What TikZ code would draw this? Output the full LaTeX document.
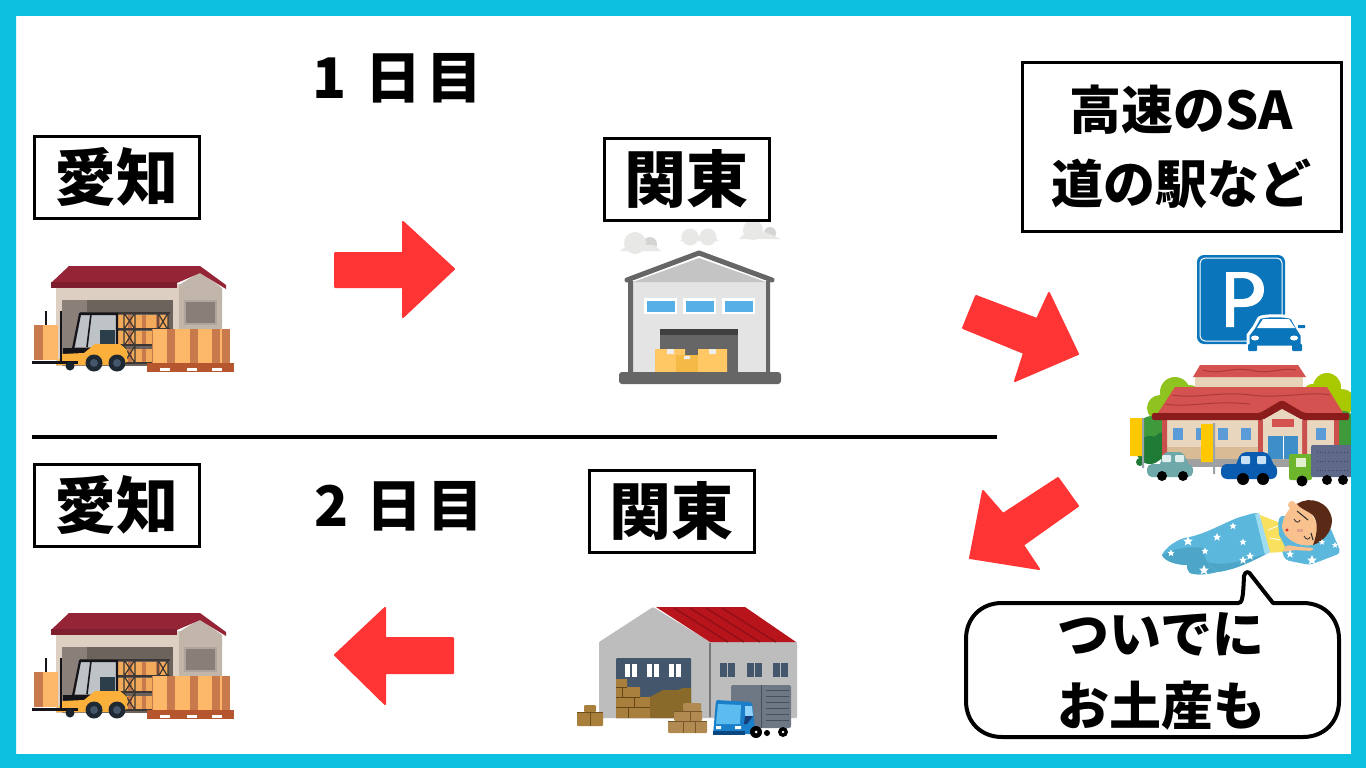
\documentclass[tikz,border=0pt]{standalone}
\usepackage{fontspec}
\newfontfamily\jp{Noto Sans CJK JP}
\definecolor{cyanframe}{HTML}{0CC0DF}
\definecolor{redarrow}{HTML}{FF3535}
\definecolor{tape}{HTML}{C87A4C}
\definecolor{cardboard}{HTML}{FCB868}
\definecolor{signblue}{HTML}{0A75BB}
\definecolor{blanket}{HTML}{5BB8DC}
\definecolor{blanketd}{HTML}{4DA5C8}
\definecolor{skin}{HTML}{F8C18E}
\definecolor{ink}{HTML}{14141A}
\definecolor{shelf}{HTML}{3C3734}
\tikzset{
  x=1pt,y=-1pt,
  labelbox/.style={draw=black,line width=3pt,fill=white,minimum width=165pt,minimum height=82pt,inner sep=0pt,font=\jp\bfseries\fontsize{62}{62}\selectfont},
  plain/.style={inner sep=0pt,font=\jp\bfseries\fontsize{56}{62}\selectfont,align=center},
  blockarrow/.style={fill=redarrow,draw=redarrow,line width=2pt,line join=round},
}
% forklift warehouse drawn in its own coordinates
\newcommand{\forkhouse}{%
  \fill[color={rgb,255:red,221;green,208;blue,194}] (56,284) rectangle (180,366);
  \fill[color={rgb,255:red,194;green,181;blue,170}] (179,285) -- (200,272) -- (222,288) -- (222,363) -- (179,363) -- cycle;
  \fill[color={rgb,255:red,176;green,165;blue,156}] (184,300) rectangle (217,325);
  \fill[color={rgb,255:red,138;green,127;blue,120}] (186,302) rectangle (215,323);
  \fill[color={rgb,255:red,139;green,127;blue,121}] (62,300) rectangle (88,366);
  \fill[color={rgb,255:red,107;green,99;blue,92}] (87,300) rectangle (173,366);
  % shelves
  \foreach \yy in {315,331,349}{
    \fill[color={rgb,255:red,240;green,170;blue,90}] (82,\yy) rectangle (168,\yy+13);
    \foreach \xx in {86,100,114,128,142,156}{\fill[tape] (\xx,\yy) rectangle (\xx+4,\yy+13);}
    \fill[shelf] (80,\yy+13) rectangle (170,\yy+15);
  }
  \fill[shelf] (80,312) rectangle (170,314);
  \draw[shelf,line width=1.2pt] (124,313) rectangle (135,363) (124,313)--(135,329) (135,313)--(124,329) (124,329)--(135,346) (135,329)--(124,346) (124,346)--(135,363) (135,346)--(124,363);
  \draw[shelf,line width=1.2pt] (158,313) rectangle (168,330) (158,313)--(168,330) (168,313)--(158,330);
  % roof
  \fill[color={rgb,255:red,150;green,36;blue,55}] (69,266) -- (200,266) -- (226,285) -- (226,289) -- (200,273) -- (177,283) -- (51,283) -- cycle;
  \fill[color={rgb,255:red,125;green,31;blue,46}] (51,282) rectangle (177,288);
  % pallet of boxes
  \fill[cardboard] (152,329) rectangle (230,363);
  \foreach \xx in {167,190,212,222}{\fill[tape] (\xx,329) rectangle (\xx+8,363);}
  \fill[tape] (152,329) rectangle (153,363);
  \fill[color={rgb,255:red,181;green,86;blue,47}] (147,363) rectangle (234,372);
  \foreach \xx in {160,187,212}{\fill[white] (\xx,368) rectangle (\xx+10,371);}
  % load on fork
  \fill[cardboard] (34,325) rectangle (58,360);
  \fill[tape] (34,325) rectangle (43,360);
  % forklift
  \fill[color={rgb,255:red,190;green,195;blue,200}] (75,347) -- (81,314) -- (116,314) -- (116,347) -- cycle;
  \fill[color={rgb,255:red,45;green,62;blue,75}] (100,330) rectangle (115,345);
  \draw[ink,line width=2.2pt] (73,349) -- (80,314) -- (117,314) -- (117,347);
  \draw[ink,line width=1.6pt] (91,314) -- (87,347);
  \fill[ink] (63,348) rectangle (97,354);
  \fill[color={rgb,255:red,251;green,176;blue,59}] (56,365) -- (62,354) -- (84,353) -- (95,344) -- (120,344) -- (127,350) -- (127,362) -- (120,365) -- cycle;
  \fill[ink] (45,311) rectangle (47,325);
  \fill[ink] (60,311) rectangle (62,362);
  \fill[ink] (32,361) rectangle (78,364);
  \fill[color={rgb,255:red,25;green,35;blue,45}] (70,366) circle[radius=4.5];
  \foreach \xx in {94,117}{
    \fill[color={rgb,255:red,31;green,41;blue,51}] (\xx,363) circle[radius=8.5];
    \fill[color={rgb,255:red,68;green,87;blue,106}] (\xx,363) circle[radius=4];
  }
}
\begin{document}
\begin{tikzpicture}
\useasboundingbox (0,0) rectangle (1366,768);
\fill[white] (0,0) rectangle (1366,768);

% ---- forklift warehouses
\begin{scope}\forkhouse\end{scope}
\begin{scope}[shift={(0,347)}]\forkhouse\end{scope}

% ---- grey warehouse with clouds
\fill[color={rgb,255:red,213;green,213;blue,211}] (650,244) circle[radius=7] (770,233) circle[radius=6];
\fill[color={rgb,255:red,232;green,232;blue,230}] (635,243) circle[radius=11] (690,237) circle[radius=8.5] (708,237) circle[radius=8.5] (753,230) circle[radius=10];
\fill[color={rgb,255:red,232;green,232;blue,230}] (620,251) -- (628,245) -- (654,245) -- (661,251) -- cycle;
\fill[color={rgb,255:red,232;green,232;blue,230}] (680,241) -- (686,236) -- (712,236) -- (719,241) -- cycle;
\fill[color={rgb,255:red,232;green,232;blue,230}] (739,239) -- (746,232) -- (765,232) -- (781,239) -- cycle;
\fill[color={rgb,255:red,228;green,228;blue,228}] (633,282) rectangle (766,372);
\fill[color={rgb,255:red,196;green,196;blue,196}] (633,282) -- (699,258) -- (766,282) -- cycle;
\fill[color={rgb,255:red,102;green,102;blue,102}] (628,281) rectangle (633,372) (766,281) rectangle (770,372);
\draw[color={rgb,255:red,102;green,102;blue,102},line width=5pt,line cap=round,line join=round] (627,280) -- (699,253) -- (772,280);
\foreach \xx in {644,683,722}{
  \fill[white] (\xx,298) rectangle (\xx+33,314);
  \fill[color={rgb,255:red,86;green,176;blue,230}] (\xx+2.5,301) rectangle (\xx+30.5,312);
}
\fill[color={rgb,255:red,102;green,102;blue,102}] (660,329) rectangle (738,372);
\fill[color={rgb,255:red,63;green,63;blue,63}] (660,329) rectangle (738,335);
\fill[color={rgb,255:red,255;green,200;blue,100}] (655,349) rectangle (685,372) (698,349) rectangle (727,372);
\fill[color={rgb,255:red,245;green,185;blue,69}] (676,355) rectangle (698,372);
\fill[color={rgb,255:red,238;green,238;blue,238}] (667,349) rectangle (674,354) (709,349) rectangle (716,354) (684,356) rectangle (690,359);
\fill[color={rgb,255:red,102;green,102;blue,102},rounded corners=3pt] (619,372) rectangle (781,384);

% ---- parking sign
\fill[signblue,rounded corners=7pt] (1197,255) rectangle (1285,344);
\draw[white,line width=1pt,rounded corners=5pt] (1200,258) rectangle (1282,341);
\fill[white,even odd rule] (1226,272) -- (1244,272) .. controls (1256,272) and (1264,279) .. (1264,289.5) .. controls (1264,300) and (1256,307) .. (1244,307) -- (1234,307) -- (1234,327) -- (1226,327) -- cycle
  (1234,278) -- (1243,278) .. controls (1250,278) and (1254,283) .. (1254,288.5) .. controls (1254,294) and (1250,299) .. (1243,299) -- (1234,299) -- cycle;
\draw[white,line width=3pt,fill=signblue,line join=round] (1248,347) -- (1248,335) -- (1254,327) -- (1259,318) .. controls (1262,315) and (1289,315) .. (1292,318) -- (1297,327) -- (1302,335) -- (1302,347) -- cycle;
\fill[signblue,rounded corners=1pt] (1248,344) rectangle (1257,351) (1292,344) rectangle (1302,351);
\fill[signblue] (1243,325) rectangle (1249,328) (1298,325) rectangle (1305,328);
\fill[white] (1257,328) -- (1263,319) -- (1289,319) -- (1295,328) -- cycle;
\fill[white] (1255,338) ellipse[x radius=4,y radius=2.5] (1294,338) ellipse[x radius=4,y radius=2.5];

% ---- roadside station
\fill[color={rgb,255:red,143;green,195;blue,31}] (1175,392) circle[radius=15] (1160,408) circle[radius=13] (1190,395) circle[radius=10];
\fill[color={rgb,255:red,168;green,200;blue,0}] (1327,387) circle[radius=14] (1342,402) circle[radius=13] (1312,392) circle[radius=8];
\fill[color={rgb,255:red,62;green,154;blue,58}] (1152,432) circle[radius=16] (1165,420) circle[radius=10] (1343,425) circle[radius=14] (1343,445) circle[radius=12];
\fill[color={rgb,255:red,30;green,122;blue,53}] (1150,450) circle[radius=14] (1165,446) circle[radius=14] (1140,462) circle[radius=4];
\fill[color={rgb,255:red,230;green,211;blue,184}] (1195,377) rectangle (1303,389);
\fill[color={rgb,255:red,212;green,82;blue,79}] (1200,365) -- (1298,365) -- (1306,377) -- (1193,377) -- cycle;
\fill[color={rgb,255:red,212;green,82;blue,79}] (1175,387) -- (1327,387) -- (1343,413) -- (1158,413) -- cycle;
\draw[color={rgb,255:red,176;green,58;blue,54},line width=1pt] (1203,370) .. controls (1220,375) and (1230,367) .. (1250,370) .. controls (1270,375) and (1280,367) .. (1296,370);
\draw[color={rgb,255:red,176;green,58;blue,54},line width=1pt] (1172,395) .. controls (1200,399) and (1220,391) .. (1250,395) .. controls (1280,399) and (1310,391) .. (1330,395);
\draw[color={rgb,255:red,176;green,58;blue,54},line width=1pt] (1165,404) .. controls (1190,408) and (1210,400) .. (1250,404);
\fill[color={rgb,255:red,232;green,214;blue,191}] (1163,420) rectangle (1338,460);
\fill[color={rgb,255:red,217;green,187;blue,150}] (1167,447) rectangle (1258,459);
\fill[color={rgb,255:red,160;green,160;blue,160}] (1163,459) rectangle (1310,467);
\fill[color={rgb,255:red,201;green,80;blue,76}] (1162,420) rectangle (1167,459) (1258,420) rectangle (1263,459) (1302,420) rectangle (1307,459) (1334,420) rectangle (1339,459);
\fill[color={rgb,255:red,139;green,28;blue,28},rounded corners=2pt] (1152,413) -- (1260,413) -- (1282,400) -- (1304,413) -- (1349,413) -- (1349,420) -- (1302,420) -- (1282,409) -- (1263,420) -- (1152,420) -- cycle;
\fill[color={rgb,255:red,232;green,214;blue,191}] (1263,420) -- (1282,409) -- (1302,420) -- (1302,459) -- (1263,459) -- cycle;
\fill[color={rgb,255:red,212;green,82;blue,79}] (1272,419) rectangle (1294,427);
\fill[color={rgb,255:red,61;green,142;blue,201}] (1268,436) rectangle (1298,459);
\fill[white] (1283,436) rectangle (1284,459);
\foreach \xx/\xw in {1173/10,1196/6,1218/10,1241/10,1316/10}{
  \fill[color={rgb,255:red,90;green,155;blue,216}] (\xx,428) rectangle (\xx+\xw,440);
}
\fill[color={rgb,255:red,255;green,200;blue,0}] (1130,418) rectangle (1142,456) (1201,424) rectangle (1213,462);
\fill[color={rgb,255:red,154;green,163;blue,170}] (1142,418) rectangle (1144,468) (1213,423) rectangle (1215,474);
% cars
\fill[color={rgb,255:red,111;green,168;blue,168},rounded corners=4pt] (1158,470) -- (1164,452) -- (1183,452) -- (1191,470) -- cycle;
\fill[color={rgb,255:red,111;green,168;blue,168},rounded corners=5pt] (1147,477) rectangle (1193,464);
\fill[color={rgb,255:red,225;green,238;blue,238},rounded corners=1pt] (1162,455) rectangle (1171,462) (1175,455) rectangle (1184,462);
\fill[black] (1162,476) circle[radius=5] (1183,476) circle[radius=5];
\fill[color={rgb,255:red,10;green,92;blue,176},rounded corners=5pt] (1233,472) -- (1241,452) -- (1268,452) -- (1277,472) -- cycle;
\fill[color={rgb,255:red,10;green,92;blue,176},rounded corners=6pt] (1221,479) rectangle (1277,464);
\fill[color={rgb,255:red,200;green,225;blue,245},rounded corners=1pt] (1241,456) rectangle (1250,464) (1257,456) rectangle (1266,464);
\fill[black] (1243,479) circle[radius=6] (1263,479) circle[radius=6];
\fill[color={rgb,255:red,108;green,181;blue,45},rounded corners=2pt] (1289,454) rectangle (1312,480);
\fill[color={rgb,255:red,225;green,240;blue,205}] (1296,458) rectangle (1306,467);
\fill[color={rgb,255:red,95;green,106;blue,138},rounded corners=2pt] (1311,445) rectangle (1356,477);
\foreach \yy in {452,461,470}{\draw[color={rgb,255:red,60;green,68;blue,95},line width=.7pt,dotted] (1317,\yy) -- (1348,\yy);}
\fill[black] (1302,481) circle[radius=5.5] (1327,480) circle[radius=5] (1343,480) circle[radius=5];

% ---- sleeping child
\fill[blanket,rounded corners=4pt] (1280,515) -- (1330,527) -- (1341,553) -- (1310,565) -- (1285,560) -- (1276,533) -- cycle;
\fill[color={rgb,255:red,249;green,224;blue,94}] (1260,515) -- (1278,522) -- (1279,535) -- (1285,547) -- (1283,552) -- (1265,553) -- cycle;
\draw[white,line width=.8pt] (1268,530) -- (1278,526) (1270,538) -- (1280,540);
\fill[skin,rounded corners=2pt] (1283,552) -- (1286,545) -- (1300,547) -- (1314,548) -- (1312,551) -- (1295,550) -- cycle;
\fill[skin] (1292,505) circle[radius=4];
\fill[skin] (1297,503) .. controls (1289,507) and (1282,518) .. (1282,527) .. controls (1283,538) and (1298,548) .. (1313,545) .. controls (1322,535) and (1320,515) .. (1297,503) -- cycle;
\fill[color={rgb,255:red,90;green,42;blue,22}] (1297,504) .. controls (1310,495) and (1330,502) .. (1332,520) .. controls (1332,533) and (1322,542) .. (1313,545) .. controls (1318,532) and (1319,518) .. (1310,513) .. controls (1305,510) and (1300,508) .. (1297,504) -- cycle;
\draw[black!80,line width=1.1pt] (1297,511) -- (1308,520) (1311,533) -- (1313,540);
\draw[black!80,line width=.8pt] (1294,519) .. controls (1296,523) and (1299,523) .. (1300,520);
\draw[black!80,line width=.8pt] (1304,536) .. controls (1306,540) and (1309,540) .. (1310,537);
\fill[color={rgb,255:red,222;green,40;blue,50}] (1287,530) circle[radius=1.6];
\fill[color={rgb,255:red,225;green,160;blue,140}] (1297,529) rectangle (1303,532);
\fill[blanket] (1162,555) .. controls (1165,548) and (1175,541) .. (1184,538) .. controls (1205,535) and (1225,522) .. (1240,517) .. controls (1248,515) and (1252,513) .. (1257,513) -- (1268,553) .. controls (1255,560) and (1235,570) .. (1217,572) .. controls (1205,575) and (1195,575) .. (1190,573) .. controls (1187,570) and (1187,567) .. (1187,565) .. controls (1178,565) and (1165,562) .. (1162,555) -- cycle;
\fill[blanketd] (1162,555) .. controls (1175,548) and (1190,546) .. (1203,548) .. controls (1204,558) and (1208,566) .. (1217,572) .. controls (1205,575) and (1195,575) .. (1190,573) .. controls (1187,570) and (1187,567) .. (1187,565) .. controls (1178,565) and (1165,562) .. cycle;
\fill[blanketd] (1207,562) .. controls (1225,567) and (1245,560) .. (1266,554) .. controls (1250,562) and (1235,570) .. (1217,572) -- cycle;
\fill[color={rgb,255:red,160;green,220;blue,240}] (1255,514) -- (1259,513) -- (1270,552) -- (1265,555) -- cycle;
\foreach \sx/\sy/\sr in {1188/541/5,1217/537/4,1233/526/3.5,1243/542/3.5,1243/560/4,1205/551/3.5,1171/553/3.5,1250/556/4,1204/570/5,1290/554/4,1312/560/5,1335/545/3,1322/542/3}{
  \fill[white] (\sx,\sy-\sr) -- (\sx+.3*\sr,\sy-.3*\sr) -- (\sx+\sr,\sy-.3*\sr) -- (\sx+.45*\sr,\sy+.2*\sr) -- (\sx+.65*\sr,\sy+.9*\sr) -- (\sx,\sy+.5*\sr) -- (\sx-.65*\sr,\sy+.9*\sr) -- (\sx-.45*\sr,\sy+.2*\sr) -- (\sx-\sr,\sy-.3*\sr) -- (\sx-.3*\sr,\sy-.3*\sr) -- cycle;
}

% ---- red-roof warehouse with truck
\fill[color={rgb,255:red,189;green,189;blue,189},rounded corners=1pt] (599,642) -- (653,607) -- (710,642) -- (797,642) -- (797,718) -- (599,718) -- cycle;
\fill[color={rgb,255:red,184;green,20;blue,28}] (656,607) -- (745,607) -- (796,642) -- (710,642) -- cycle;
\foreach \xo/\xi in {674/728,690/744,706/760,722/776}{
  \draw[color={rgb,255:red,142;green,16;blue,22},line width=1.3pt] (\xo,608) -- (\xi,642);
}
\fill[color={rgb,255:red,120;green,120;blue,120}] (709,643) rectangle (711,717);
\fill[color={rgb,255:red,68;green,86;blue,107},rounded corners=1pt] (616,658) rectangle (691,718);
\foreach \xx in {625,647,669}{
  \fill[white] (\xx,664) rectangle (\xx+12,677);
  \fill[color={rgb,255:red,68;green,86;blue,107}] (\xx+5.3,664) rectangle (\xx+6.7,677);
}
\foreach \xx in {720,747,773}{
  \fill[color={rgb,255:red,68;green,86;blue,107}] (\xx,663) rectangle (\xx+15,677);
  \fill[color={rgb,255:red,189;green,189;blue,189}] (\xx+7,663) rectangle (\xx+8,677);
}
\fill[color={rgb,255:red,168;green,127;blue,60}] (616,679) -- (627,679) -- (627,687) -- (640,687) -- (640,697) -- (650,697) -- (650,718) -- (616,718) -- cycle;
\fill[color={rgb,255:red,138;green,106;blue,42}] (650,697) -- (663,690) -- (678,690) -- (683,688) -- (691,688) -- (691,718) -- (650,718) -- cycle;
\draw[color={rgb,255:red,100;green,70;blue,25},line width=.8pt] (616,687) -- (627,687) (616,697) -- (640,697) (616,707) -- (650,707) (622,687) -- (622,697) (634,697) -- (634,707) (628,707) -- (628,718);
\fill[color={rgb,255:red,168;green,128;blue,60},rounded corners=1pt] (584,705) rectangle (596,712) (577,712) rectangle (603,726);
\draw[color={rgb,255:red,110;green,78;blue,30},line width=.8pt] (590,712) -- (590,726) (577,712) -- (603,712);
\fill[color={rgb,255:red,176;green,138;blue,80},rounded corners=1pt] (683,703) rectangle (701,711) (674,711) rectangle (702,721) (668,721) rectangle (707,733);
\draw[color={rgb,255:red,120;green,88;blue,40},line width=.8pt] (674,711) -- (702,711) (668,721) -- (707,721) (690,711) -- (690,721) (683,721) -- (683,733) (695,721) -- (695,733);
\fill[color={rgb,255:red,110;green,120;blue,133},rounded corners=2pt] (731,685) rectangle (791,728);
\foreach \yy in {690,696,702,708,714,720}{\draw[color={rgb,255:red,70;green,80;blue,92},line width=.7pt] (766,\yy) -- (789,\yy);}
\draw[color={rgb,255:red,70;green,80;blue,92},line width=.7pt] (761,685) -- (761,728);
\fill[color={rgb,255:red,26;green,127;blue,200},rounded corners=2pt] (716,700) -- (752,702) -- (755,728) -- (753,734) -- (713,735) -- cycle;
\fill[color={rgb,255:red,92;green,188;blue,240}] (718,704) -- (741,705) -- (740,724) -- (716,724) -- cycle;
\fill[color={rgb,255:red,140;green,210;blue,250}] (745,706) -- (752,706) -- (753,716) -- (745,716) -- cycle;
\fill[color={rgb,255:red,20;green,60;blue,120}] (745,716) -- (753,716) -- (747,724) -- (744,724) -- cycle;
\fill[color={rgb,255:red,10;green,70;blue,130}] (713,731) rectangle (745,735);
\fill[white] (716,726) rectangle (721,729) (735,726) rectangle (741,729);
\fill[black] (767,733) circle[radius=3] (756,732) circle[radius=6] (783,732) circle[radius=5];
\fill[white] (756,732) circle[radius=1.5] (783,732) circle[radius=1.3];

% ---- rule
\coordinate (ruleL) at (32,437);
\coordinate (ruleR) at (997,437);
\draw[black,line width=3.5pt] (ruleL) -- (ruleR);

% ---- arrows
\draw[blockarrow] (335,253) -- (403,253) -- (403,222) -- (454,269) -- (403,317) -- (403,287) -- (335,287) -- cycle;
\draw[blockarrow] (453,638) -- (385,638) -- (385,608) -- (335,655) -- (385,704) -- (385,673) -- (453,673) -- cycle;
\draw[blockarrow] (976,296) -- (1037,319) -- (1049,293) -- (1078,354) -- (1015,381) -- (1024,353) -- (963,328) -- cycle;
\draw[blockarrow] (1058,478) -- (1078,506) -- (1023,545) -- (1039,569) -- (970,558) -- (983,491) -- (1003,514) -- cycle;

% ---- labels
\node[plain] (day1) at (397.5,78) {1\hspace{18pt}日\hspace{5pt}目};
\node[plain] (day2) at (399,506) {2\hspace{18pt}日\hspace{5pt}目};
\node[labelbox] (aichi1) at (116.5,177) {愛知};
\node[labelbox] (kanto1) at (686.5,179) {関東};
\node[labelbox] (aichi2) at (116.5,505) {愛知};
\node[labelbox] (kanto2) at (671.5,511) {関東};
\node[labelbox,minimum width=319pt,minimum height=168pt,font=\jp\bfseries\fontsize{52}{74}\selectfont,align=center] (stop) at (1181.5,147) {高速のSA\\道の駅など};

% ---- speech bubble
\draw[black,line width=4pt,fill=white,line join=round] (1002,603) -- (1238,603) .. controls (1242,603) and (1243,600) .. (1244,576) .. controls (1245,571) and (1249,571) .. (1251,575) -- (1273,603) -- (1303,603) .. controls (1324,603) and (1339,618) .. (1339,639) -- (1339,701) .. controls (1339,722) and (1324,737) .. (1303,737) -- (1002,737) .. controls (981,737) and (966,722) .. (966,701) -- (966,639) .. controls (966,618) and (981,603) .. (1002,603) -- cycle;
\node[plain,font=\jp\bfseries\fontsize{52}{72}\selectfont] (gift) at (1161,671) {ついでに\\お土産も};

% ---- frame, drawn last so that it trims the scene
\fill[cyanframe,even odd rule] (0,0) rectangle (1366,768) (16,16) rectangle (1351,754);
\end{tikzpicture}
\end{document}
